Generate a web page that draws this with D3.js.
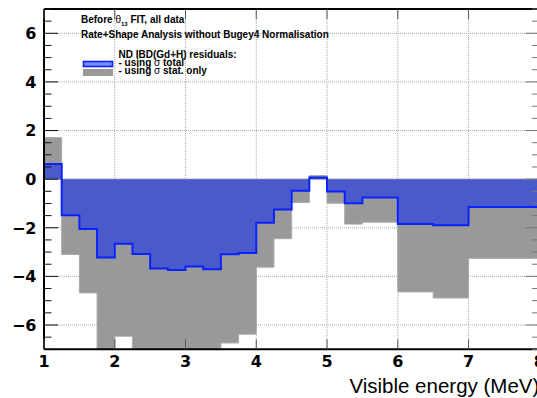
<!DOCTYPE html>
<html>
<head>
<meta charset="utf-8">
<script src="https://cdn.jsdelivr.net/npm/d3@7/dist/d3.min.js"></script>
<style>
  html, body { margin: 0; padding: 0; background: #fff; }
  svg { display: block; }
</style>
</head>
<body>
<svg id="chart" width="537" height="398"></svg>
<script>
// Bin edges of the visible-energy histogram (MeV)
const binEdges = [1, 1.25, 1.5, 1.75, 2, 2.25, 2.5, 2.75, 3, 3.25, 3.5, 3.75, 4,
                  4.25, 4.5, 4.75, 5, 5.25, 5.5, 6, 6.5, 7, 8];

// ND IBD(Gd+H) residuals, using sigma total
const residTotal = [0.62, -1.49, -2.05, -3.22, -2.66, -3.08, -3.68, -3.74, -3.59, -3.71,
                    -3.09, -3.04, -1.79, -1.25, -0.48, 0.07, -0.51, -0.99, -0.75, -1.85,
                    -1.90, -1.15];

// ND IBD(Gd+H) residuals, using sigma stat. only
const residStat = [1.71, -3.10, -4.68, -7.4, -6.46, -7.2, -8.5, -8.6, -8.3, -8.3,
                   -6.74, -6.38, -3.62, -2.45, -0.96, 0.15, -0.99, -1.85, -1.77, -4.64,
                   -4.89, -3.26];

const xTicks = [1, 2, 3, 4, 5, 6, 7, 8];
const yTicks = [-6, -4, -2, 0, 2, 4, 6];

const svg = d3.select("#chart");
const pLeft = 44, pRight = 539.3, pTop = 9, pBottom = 349.3;

const x = d3.scaleLinear().domain([1, 8]).range([pLeft, pRight]);
const y = d3.scaleLinear().domain([-7, 7]).range([pBottom, pTop]);

const defs = svg.append("defs");
defs.append("clipPath").attr("id", "plotClip")
  .append("rect").attr("x", pLeft).attr("y", pTop)
  .attr("width", pRight - pLeft).attr("height", pBottom - pTop);

// step points for a histogram
function steps(vals) {
  const pts = [];
  vals.forEach((v, i) => {
    pts.push({ e: binEdges[i], v });
    pts.push({ e: binEdges[i + 1], v });
  });
  return pts;
}

// grid
const grid = svg.append("g").attr("stroke", "#aaa").attr("stroke-width", 1)
  .attr("stroke-dasharray", "1,1");
xTicks.filter(t => t > 1 && t < 8).forEach(t => {
  grid.append("line").attr("x1", x(t)).attr("x2", x(t)).attr("y1", pTop).attr("y2", pBottom);
});
yTicks.forEach(t => {
  grid.append("line").attr("x1", pLeft).attr("x2", pRight).attr("y1", y(t)).attr("y2", y(t));
});

const plot = svg.append("g").attr("clip-path", "url(#plotClip)");

const area = d3.area().x(d => x(d.e)).y0(y(0)).y1(d => y(d.v));
const line = d3.line().x(d => x(d.e)).y(d => y(d.v));

plot.append("path").datum(steps(residStat))
  .attr("d", area).attr("fill", "#999").attr("stroke", "#aaa").attr("stroke-width", 1);

plot.append("path").datum(steps(residTotal))
  .attr("d", area).attr("fill", "#4b5acb").attr("stroke", "none");

plot.append("path").datum(steps(residTotal))
  .attr("d", line).attr("fill", "none").attr("stroke", "#0a22ff").attr("stroke-width", 2);

// frame
const frame = svg.append("g").attr("fill", "none");
frame.append("line").attr("x1", pLeft).attr("x2", pRight).attr("y1", pBottom).attr("y2", pBottom)
  .attr("stroke", "#000").attr("stroke-width", 2);
frame.append("line").attr("x1", pLeft).attr("x2", pRight).attr("y1", pTop).attr("y2", pTop)
  .attr("stroke", "#000").attr("stroke-width", 2);
frame.append("line").attr("x1", pLeft).attr("x2", pLeft).attr("y1", pTop).attr("y2", pBottom)
  .attr("stroke", "#000").attr("stroke-width", 2);

// x ticks (bottom and top)
const tk = svg.append("g").attr("stroke", "#555").attr("stroke-width", 1);
xTicks.forEach(t => {
  tk.append("line").attr("x1", x(t)).attr("x2", x(t)).attr("y1", pBottom).attr("y2", pBottom - 10);
  tk.append("line").attr("x1", x(t)).attr("x2", x(t)).attr("y1", pTop).attr("y2", pTop + 10);
});

// y ticks (left and right), minor every 0.5
d3.range(-7, 7.01, 0.5).forEach(t => {
  const major = Math.abs(t % 2) < 1e-9;
  const len = major ? 14 : 7.5;
  svg.append("line").attr("x1", pLeft).attr("x2", pLeft + len).attr("y1", y(t)).attr("y2", y(t))
    .attr("stroke", "#111").attr("stroke-width", 1);
  svg.append("line").attr("x1", pRight).attr("x2", pRight - len).attr("y1", y(t)).attr("y2", y(t))
    .attr("stroke", "#777").attr("stroke-width", 1);
});

// tick labels
const lab = svg.append("g").attr("font-family", "'DejaVu Sans', sans-serif")
  .attr("font-weight", "bold").attr("font-size", 16).attr("fill", "#000");
xTicks.forEach(t => {
  lab.append("text").attr("x", x(t)).attr("y", 367).attr("text-anchor", "middle").text(t);
});
yTicks.forEach(t => {
  lab.append("text").attr("x", 36.5).attr("y", y(t)).attr("dy", "0.36em")
    .attr("text-anchor", "end").text(t < 0 ? "\u2212" + Math.abs(t) : String(t));
});

// axis title
svg.append("text").attr("x", pRight).attr("y", 393).attr("text-anchor", "end")
  .attr("font-family", "'Liberation Sans', Arial, sans-serif").attr("font-size", 20.5)
  .attr("fill", "#000").text("Visible energy (MeV)");

// header texts
const hdr = svg.append("g").attr("font-family", "'Liberation Sans', Arial, sans-serif")
  .attr("font-size", 10).attr("font-weight", "bold").attr("fill", "#000");
const t1 = hdr.append("text").attr("x", 81).attr("y", 23);
t1.append("tspan").text("Before ");
t1.append("tspan").attr("font-weight", "normal").text("\u03b8");
t1.append("tspan").attr("font-size", 6).attr("dy", 2.5).text("13");
t1.append("tspan").attr("dy", -2.5).text(" FIT, all data");
hdr.append("text").attr("x", 81).attr("y", 37.5).text("Rate+Shape Analysis without Bugey4 Normalisation");

// legend
hdr.append("text").attr("x", 118.5).attr("y", 58).text("ND IBD(Gd+H) residuals:");
const l1 = hdr.append("text").attr("x", 118.5).attr("y", 65.8);
l1.append("tspan").text("- using ");
l1.append("tspan").attr("font-weight", "normal").text("\u03c3");
l1.append("tspan").text(" total");
const l2 = hdr.append("text").attr("x", 118.5).attr("y", 73.5);
l2.append("tspan").text("- using ");
l2.append("tspan").attr("font-weight", "normal").text("\u03c3");
l2.append("tspan").text(" stat. only");

svg.append("rect").attr("x", 83.5).attr("y", 61.5).attr("width", 29).attr("height", 5)
  .attr("fill", "#7d8cf5").attr("stroke", "#0a22ff").attr("stroke-width", 1.6);
svg.append("rect").attr("x", 83).attr("y", 69).attr("width", 30).attr("height", 7)
  .attr("fill", "#999");
</script>
</body>
</html>
